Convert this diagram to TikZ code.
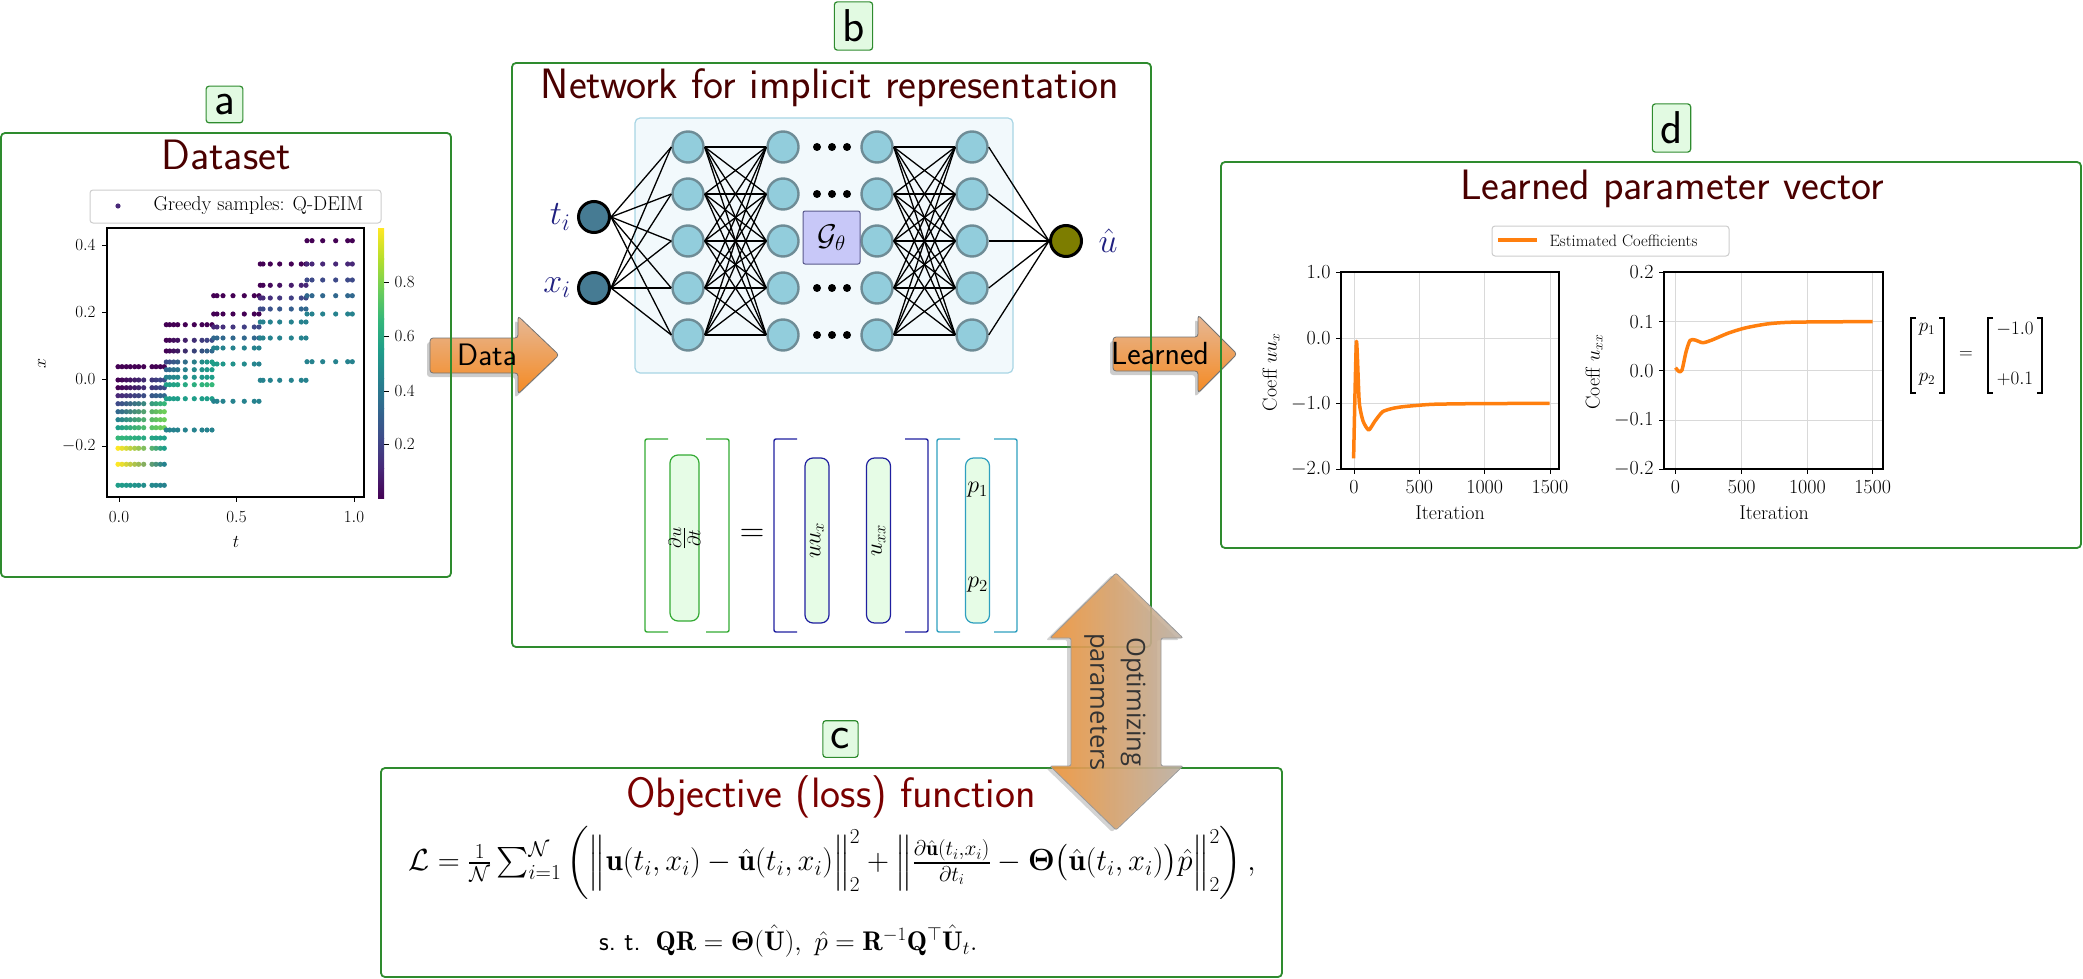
\RequirePackage{fix-cm}
\documentclass[tikz,border=0pt]{standalone}
\usepackage{amsmath,amssymb,bm}
\usepackage{fontspec}
\newfontfamily\osans{Open Sans}
\usetikzlibrary{shadows}
\newcommand\myfs[1]{\fontsize{#1}{#1}\selectfont}
\definecolor{boxgreen}{HTML}{2E8B2E}
\definecolor{labfill}{HTML}{E2FAE2}
\definecolor{titlered}{HTML}{4A0000}
\definecolor{titlered2}{HTML}{7A0000}
\definecolor{neurf}{HTML}{92CDDC}
\definecolor{neurb}{HTML}{6E8C96}
\definecolor{inf}{HTML}{467B93}
\definecolor{outf}{HTML}{7D7D00}
\definecolor{lblblue}{HTML}{202080}
\definecolor{gfill}{HTML}{C8C8F8}
\definecolor{gdraw}{HTML}{5A5A8C}
\definecolor{netfill}{HTML}{F2F9FC}
\definecolor{netdraw}{HTML}{A8D5E4}
\definecolor{eqgreen}{HTML}{33AA33}
\definecolor{eqblue}{HTML}{1F1F9F}
\definecolor{eqcyan}{HTML}{2E9FBF}
\definecolor{eqfill}{HTML}{E6FCE6}
\definecolor{orng}{HTML}{FF7F0E}
\definecolor{arrlight}{HTML}{E6B896}
\definecolor{arrdark}{HTML}{F58A22}
\definecolor{optl}{HTML}{F29638}
\definecolor{optr}{HTML}{BDB2A7}
\definecolor{v0}{HTML}{440154}
\definecolor{v1}{HTML}{482878}
\definecolor{v2}{HTML}{3E4A89}
\definecolor{v3}{HTML}{31688E}
\definecolor{v4}{HTML}{26828E}
\definecolor{v5}{HTML}{1F9E89}
\definecolor{v6}{HTML}{35B779}
\definecolor{v7}{HTML}{6ECE58}
\definecolor{v8}{HTML}{B5DE2B}
\definecolor{v9}{HTML}{FDE725}
\def\colsA{118,122,126.3,130.3,134.7,138.7,143.7,152,156,160.3,164.3}
\def\colsB{166.3,169.7,173.7,177.7,185.3,194.3,202,207,212}
\def\colsC{213.7,217,223,233,244.3,254.3,259}
\def\colsD{260.3,263,270.3,279.7,291.3,301.3,306}
\def\colsE{307,312,322.7,335.7,347.7,352.3}
\newcommand\srow[6]{\foreach \xx in #2 {\pgfmathtruncatemacro\pp{100*(#4-\xx)/(#4-#3)}\fill[#5!\pp!#6] (\xx,#1) circle[radius=2.6pt];}}
\newcommand\gA[3]{\srow{#1}{\colsA}{118}{164.3}{#2}{#3}}
\newcommand\gB[3]{\srow{#1}{\colsB}{166.3}{212}{#2}{#3}}
\newcommand\gC[3]{\srow{#1}{\colsC}{213.7}{259}{#2}{#3}}
\newcommand\gD[3]{\srow{#1}{\colsD}{260.3}{306}{#2}{#3}}
\newcommand\gE[3]{\srow{#1}{\colsE}{307}{352.3}{#2}{#3}}
\begin{document}
\begin{tikzpicture}[x=1pt,y=-1pt,
 panel/.style={draw=boxgreen,line width=1.8pt,rounded corners=4pt},
 plabel/.style={draw=boxgreen,fill=labfill,line width=1.2pt,rounded corners=3pt,inner sep=8pt,font=\sffamily\myfs{46}},
 ptitle/.style={text=titlered,font=\sffamily\myfs{42.5},anchor=base},
 neuron/.style={circle,draw=neurb,fill=neurf,line width=2.4pt,minimum size=31pt,inner sep=0pt},
 ionode/.style={circle,draw=black,line width=3pt,minimum size=31pt,inner sep=0pt},
 conn/.style={line width=1.3pt},
 barrow/.style={draw=black!55,line width=0.8pt,rounded corners=3pt,top color=arrlight,bottom color=arrdark,drop shadow={shadow xshift=-3pt,shadow yshift=-4pt,opacity=0.4}},
 tickA/.style={font=\myfs{17}},
 tickD/.style={font=\myfs{20}},
 eqbox/.style={rounded corners=8pt,fill=eqfill,line width=1.2pt,minimum width=24pt,minimum height=165pt,inner sep=0pt},
 grid/.style={black!15,line width=1pt}]
\useasboundingbox (0,0) rectangle (2083,979);

% ================= arrows under boxes =================
\path[barrow] (430,338) -- (518,338) -- (518,316) -- (559,355) -- (518,394) -- (518,373) -- (430,373) -- cycle;
\path[barrow] (1113,337) -- (1198,337) -- (1198,315) -- (1237,354) -- (1198,393) -- (1198,371) -- (1113,371) -- cycle;

% ================= panel a =================
\draw[panel] (1,133) rectangle (451,577);
\node[plabel] (la) at (224.5,104.5) {a};
\node[ptitle] (ta) at (226,170) {Dataset};
\draw[black!20,line width=1pt,rounded corners=3pt] (90,190) rectangle (381,223);
\fill[v1] (118,206) circle[radius=2.6pt];
\node[anchor=west,font=\myfs{20}] (lega) at (150,206) {Greedy samples: Q-DEIM};
% scatter
\gA{366.7}{v0}{v0}\gA{380}{v0}{v2}\gA{387.7}{v0}{v2}\gA{395.7}{v1}{v3}
\gA{403.7}{v2}{v6}\gA{411.7}{v3}{v7}\gA{419.7}{v4}{v7}\gA{427.7}{v5}{v7}
\gA{438}{v6}{v5}\gA{448.3}{v9}{v5}\gA{464.3}{v9}{v4}\gA{485.3}{v5}{v4}
\gB{324.7}{v0}{v0}\gB{340.3}{v0}{v2}\gB{351}{v0}{v3}\gB{362}{v2}{v5}
\gB{369.7}{v3}{v5}\gB{377.3}{v4}{v5}\gB{384.7}{v5}{v6}\gB{398.7}{v5}{v5}\gB{430}{v4}{v4}
\gC{295.7}{v0}{v0}\gC{314}{v0}{v0}\gC{327}{v1}{v2}\gC{338}{v3}{v3}
\gC{348}{v4}{v4}\gC{364}{v5}{v4}\gC{401.3}{v4}{v4}
\gD{264}{v0}{v0}\gD{285.3}{v0}{v1}\gD{298}{v1}{v2}\gD{309}{v2}{v3}
\gD{322}{v4}{v4}\gD{338}{v4}{v4}\gD{380.3}{v4}{v4}
\gE{240.7}{v0}{v0}\gE{264}{v1}{v1}\gE{280}{v2}{v2}\gE{295.7}{v3}{v3}
\gE{314}{v4}{v4}\gE{361.7}{v4}{v4}
\draw[line width=1.2pt] (107,228) rectangle (364,497);
\foreach \X/\lab in {119/0.0,236.5/0.5,354/1.0}{\draw[line width=1pt] (\X,497) -- (\X,502); \node[tickA] at (\X,517) {$\lab$};}
\foreach \Y/\lab in {245/0.4,312/0.2,379/0.0,446/-0.2}{\draw[line width=1pt] (107,\Y) -- (102,\Y); \node[tickA,anchor=east] at (99,\Y) {$\lab$};}
\node[font=\myfs{18}] (tlab) at (236,542) {$t$};
\node[font=\myfs{18},rotate=90] (xlab) at (42,363) {$x$};
\foreach \k [evaluate=\k as \yb using {498.5-29.889*\k}, evaluate=\k as \yt using {498-29.889*(\k+1)}, evaluate=\k as \kk using int(\k+1)] in {0,...,8}
  {\shade[bottom color=v\k,top color=v\kk] (378,\yb) rectangle (384,\yt);}
\foreach \Y/\lab in {282/0.8,336/0.6,391/0.4,444/0.2}{\draw[line width=1pt] (384,\Y) -- (389,\Y); \node[tickA,anchor=west] at (391,\Y) {$\lab$};}

% ================= panel b =================
\draw[panel] (512,63) rectangle (1151,647);
\node[plabel] (lb) at (853.5,26) {b};
\node[ptitle] (tb) at (830,99) {Network for implicit representation};
\draw[draw=netdraw,fill=netfill,line width=1.2pt,rounded corners=5pt] (635,118) rectangle (1013,373);
\foreach \l/\X in {1/688,2/783,3/877,4/972}
  \foreach \r in {1,...,5}
    \node[neuron] (n\l\r) at (\X,{147+47*(\r-1)}) {};
\node[ionode,fill=inf] (ti) at (594,217) {};
\node[ionode,fill=inf] (xi) at (594,288) {};
\node[ionode,fill=outf] (uh) at (1066,241) {};
\foreach \r in {1,...,5}{
  \draw[conn] (ti.east) -- (n1\r.west);
  \draw[conn] (xi.east) -- (n1\r.west);
  \draw[conn] (n4\r.east) -- (uh.west);}
\foreach \a in {1,...,5}
  \foreach \b in {1,...,5}{
    \draw[conn] (n1\a.east) -- (n2\b.west);
    \draw[conn] (n3\a.east) -- (n4\b.west);}
\foreach \Y in {147,194,288,335}
  \foreach \X in {817,832,847}
    \fill (\X,\Y) circle[radius=4pt];
\node[draw=gdraw,fill=gfill,line width=1pt,rounded corners=2pt,minimum width=57pt,minimum height=53pt,font=\myfs{30}] (G) at (831.5,237.5) {$\mathcal{G}_\theta$};
\node[text=lblblue,font=\myfs{34}] (tlb) at (560,217) {$t_i$};
\node[text=lblblue,font=\myfs{34}] (xlb) at (557,288) {$x_i$};
\node[text=lblblue,font=\myfs{34}] (ulb) at (1108,241) {$\hat{u}$};
% equation
\draw[eqgreen,line width=1.4pt,rounded corners=2pt] (668,439) -- (645,439) -- (645,632) -- (668,632);
\draw[eqgreen,line width=1.4pt,rounded corners=2pt] (706,439) -- (729,439) -- (729,632) -- (706,632);
\node[eqbox,draw=eqgreen,minimum width=29pt,minimum height=166pt] (e1) at (684.5,538) {};
\node[rotate=90,font=\myfs{26},inner sep=0pt] (e1t) at (e1) {$\frac{\partial u}{\partial t}$};
\node[font=\myfs{34},inner sep=0pt] (eqs) at (752,535) {$=$};
\draw[eqblue,line width=1.4pt,rounded corners=2pt] (797,439) -- (774,439) -- (774,632) -- (797,632);
\draw[eqblue,line width=1.4pt,rounded corners=2pt] (905,439) -- (928,439) -- (928,632) -- (905,632);
\node[eqbox,draw=eqblue] (e2) at (817,540.5) {};
\node[eqbox,draw=eqblue] (e3) at (878.5,540.5) {};
\node[rotate=90,font=\myfs{24},inner sep=0pt] (e2t) at (e2) {$uu_x$};
\node[rotate=90,font=\myfs{24},inner sep=0pt] (e3t) at (e3) {$u_{xx}$};
\draw[eqcyan,line width=1.4pt,rounded corners=2pt] (960,439) -- (937,439) -- (937,632) -- (960,632);
\draw[eqcyan,line width=1.4pt,rounded corners=2pt] (994,439) -- (1017,439) -- (1017,632) -- (994,632);
\node[eqbox,draw=eqcyan] (e4) at (977.5,540.5) {};
\node[font=\myfs{24},inner sep=0pt] (p1) at (977.5,490) {$p_1$};
\node[font=\myfs{24},inner sep=0pt] (p2) at (977.5,585) {$p_2$};

% ================= panel c =================
\draw[panel] (381,768) rectangle (1282,977);
\node[plabel] (lc) at (840.5,739) {c};
\node[ptitle,text=titlered2] (tc) at (831,807) {Objective (loss) function};
\node[font=\myfs{30.5},inner sep=0pt] (loss) at (832,863) {$\mathcal{L}=\frac{1}{\mathcal{N}}\sum_{i=1}^{\mathcal{N}}\left(\left\|\vphantom{\frac{\partial\hat{\mathbf{u}}(t_i,x_i)}{\partial t_i}}\mathbf{u}(t_i,x_i)-\hat{\mathbf{u}}(t_i,x_i)\right\|_2^2+\left\|\frac{\partial\hat{\mathbf{u}}(t_i,x_i)}{\partial t_i}-\boldsymbol{\Theta}\big(\hat{\mathbf{u}}(t_i,x_i)\big)\hat{p}\right\|_2^2\right),$};
\node[font=\myfs{27},inner sep=0pt,anchor=west] (st) at (599,941) {\sffamily s.\ t.\hspace{15pt}$\mathbf{QR}=\boldsymbol{\Theta}(\hat{\mathbf{U}}),\ \hat{p}=\mathbf{R}^{-1}\mathbf{Q}^{\top}\hat{\mathbf{U}}_t.$};

% ================= panel d =================
\draw[panel] (1221,162) rectangle (2081,548);
\node[plabel] (ld) at (1671.5,128) {d};
\node[ptitle] (td) at (1672,199) {Learned parameter vector};
\draw[black!20,line width=1pt,rounded corners=3pt] (1492,226) rectangle (1729,256);
\draw[orng,line width=3.5pt] (1498,240) -- (1537,240);
\node[anchor=west,font=\myfs{16.5}] (legd) at (1546,241) {Estimated Coefficients};
% plot 1
\foreach \X in {1354,1419.4,1484.7,1550} \draw[grid] (\X,272) -- (\X,469);
\foreach \Y in {338,403.4} \draw[grid] (1341,\Y) -- (1559,\Y);
\draw[orng,line width=3.5pt,line join=round] plot[smooth,tension=0.35] coordinates {(1353.6,458.3) (1356.4,341.7) (1359.2,401.7) (1363,421) (1368.7,430) (1375,421) (1382.6,411.7) (1393,408.3) (1404.9,406.5) (1432.7,404.3) (1480,403.6) (1549.6,403.4)};
\draw[line width=1.2pt] (1341,272) rectangle (1559,469);
\foreach \X/\lab in {1354/0,1419.4/500,1484.7/1000,1550/1500}{\draw[line width=1pt] (\X,469) -- (\X,474); \node[tickD] at (\X,487) {$\lab$};}
\foreach \Y/\lab in {272/1.0,338/0.0,403.4/-1.0,469/-2.0}{\draw[line width=1pt] (1341,\Y) -- (1336,\Y); \node[tickD,anchor=east] at (1334,\Y) {$\lab$};}
\node[tickD] (it1) at (1450,513) {Iteration};
\node[tickD,rotate=90] (c1) at (1271,372) {Coeff $uu_x$};
% plot 2
\foreach \X in {1675.5,1741.7,1807.4,1872.6} \draw[grid] (\X,272) -- (\X,469);
\foreach \Y in {321.7,370.7,420} \draw[grid] (1664,\Y) -- (1883,\Y);
\draw[orng,line width=3.5pt,line join=round] plot[smooth,tension=0.45] coordinates {(1675.5,367.7) (1679,371.5) (1682,370) (1686,352) (1690,340.5) (1695,340) (1702.8,342.7) (1712,340) (1727.8,333.3) (1745,328) (1766.8,324) (1789,322.3) (1830,321.8) (1872.6,321.7)};
\draw[line width=1.2pt] (1664,272) rectangle (1883,469);
\foreach \X/\lab in {1675.5/0,1741.7/500,1807.4/1000,1872.6/1500}{\draw[line width=1pt] (\X,469) -- (\X,474); \node[tickD] at (\X,487) {$\lab$};}
\foreach \Y/\lab in {272/0.2,321.7/0.1,370.7/0.0,420/-0.1,469/-0.2}{\draw[line width=1pt] (1664,\Y) -- (1659,\Y); \node[tickD,anchor=east] at (1657,\Y) {$\lab$};}
\node[tickD] (it2) at (1774,513) {Iteration};
\node[tickD,rotate=90] (c2) at (1594,372) {Coeff $u_{xx}$};
% matrix equation
\draw[line width=1.1pt] (1916,318) -- (1911,318) -- (1911,393) -- (1916,393);
\draw[line width=1.1pt] (1939,318) -- (1944,318) -- (1944,393) -- (1939,393);
\node[font=\myfs{19}] (mp1) at (1927,329) {$p_1$};
\node[font=\myfs{19}] (mp2) at (1927,379) {$p_2$};
\node[font=\myfs{19}] (meq) at (1966,355) {$=$};
\draw[line width=1.1pt] (1993,318) -- (1988,318) -- (1988,393) -- (1993,393);
\draw[line width=1.1pt] (2037,318) -- (2042,318) -- (2042,393) -- (2037,393);
\node[font=\myfs{19}] (mv1) at (2015,329) {$-1.0$};
\node[font=\myfs{19}] (mv2) at (2015,379) {$+0.1$};

% ================= arrow texts and optimizing arrow =================
\node[font=\sffamily\myfs{31}] (datat) at (487,355) {Data};
\node[font=\sffamily\myfs{32}] (learnt) at (1160,354) {Learned};
\path[draw=black!40,line width=0.8pt,rounded corners=2pt,left color=optl,right color=optr,fill opacity=0.88,
  drop shadow={shadow xshift=-4pt,shadow yshift=-2pt,opacity=0.35}]
  (1116,573) -- (1183,638) -- (1161,638) -- (1161,766) -- (1183,766) -- (1116,830) -- (1050,766) -- (1071,766) -- (1071,638) -- (1050,638) -- cycle;
\node[rotate=-90,align=center,text=black!80,font=\osans\myfs{25.5},inner sep=0pt] (optt) at (1115,702) {Optimizing\\[11pt]parameters};
\end{tikzpicture}
\end{document}
